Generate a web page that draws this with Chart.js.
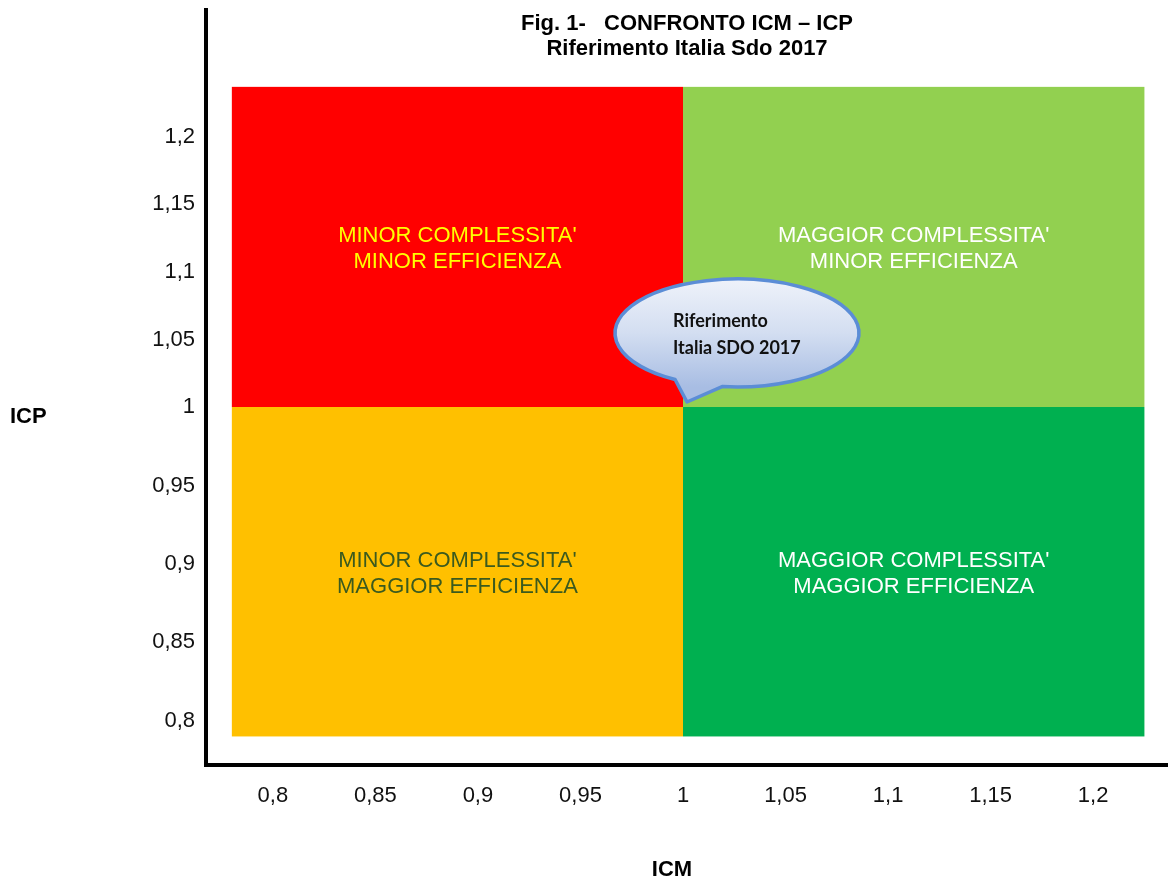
<!DOCTYPE html>
<html><head><meta charset="utf-8">
<script src="https://cdn.jsdelivr.net/npm/chart.js@4.4.1/dist/chart.umd.min.js"></script>
<style>html,body{margin:0;padding:0;background:#fff;}#wrap{width:1168px;height:880px;position:relative;}</style>
</head><body><div id="wrap"><canvas id="c"></canvas></div>
<script>
// ---- data ----
const titleLines = ['Fig. 1-   CONFRONTO ICM \u2013 ICP', 'Riferimento Italia Sdo 2017'];
const xAxisTitle = 'ICM';
const yAxisTitle = 'ICP';
const xTicks = [0.8, 0.85, 0.9, 0.95, 1, 1.05, 1.1, 1.15, 1.2];
const yTicks = [0.8, 0.85, 0.9, 0.95, 1, 1.05, 1.1, 1.15, 1.2];
const quadIcmFrom = [0.78, 1, 0.78, 1];
const quadIcmTo   = [1, 1.225, 1, 1.225];
const quadIcpFrom = [1, 1, 0.79, 0.79];
const quadIcpTo   = [1.237, 1.237, 1, 1];
const quadLabels = [
  ["MINOR COMPLESSITA'", "MINOR EFFICIENZA"],
  ["MAGGIOR COMPLESSITA'", "MINOR EFFICIENZA"],
  ["MINOR COMPLESSITA'", "MAGGIOR EFFICIENZA"],
  ["MAGGIOR COMPLESSITA'", "MAGGIOR EFFICIENZA"]
];
const quadColors = ['#FF0000', '#92D050', '#FFC000', '#00B050'];
const quadTextColors = ['#FFFF00', '#FFFFFF', '#3B5A1E', '#FFFFFF'];
const refLabel = ['Riferimento', 'Italia SDO 2017'];
const refIcm = [1];
const refIcp = [1];

// ---- helpers ----
const FONT = "'Liberation Sans', Arial, sans-serif";
const fmt = v => String(+v.toFixed(2)).replace('.', ',');
function yPix(chart, v) {
  return v >= 1 ? chart.scales.yTop.getPixelForValue(v) : chart.scales.yBot.getPixelForValue(v);
}

const quadrantPlugin = {
  id: 'quadrants',
  beforeDatasetsDraw(chart) {
    const ctx = chart.ctx, xs = chart.scales.x;
    ctx.save();
    for (let i = 0; i < quadColors.length; i++) {
      const x0 = xs.getPixelForValue(quadIcmFrom[i]), x1 = xs.getPixelForValue(quadIcmTo[i]);
      const y0 = yPix(chart, quadIcpTo[i]), y1 = yPix(chart, quadIcpFrom[i]);
      ctx.fillStyle = quadColors[i];
      ctx.fillRect(x0, y0, x1 - x0, y1 - y0);
      ctx.fillStyle = quadTextColors[i];
      ctx.font = '22px ' + FONT;
      ctx.textAlign = 'center';
      ctx.textBaseline = 'middle';
      const cx = (x0 + x1) / 2, cy = (y0 + y1) / 2 + 2;
      const lines = quadLabels[i], lh = 25.5;
      lines.forEach((t, k) => ctx.fillText(t, cx, cy + (k - (lines.length - 1) / 2) * lh));
    }
    ctx.restore();
  }
};

const calloutPlugin = {
  id: 'callout',
  afterDatasetsDraw(chart) {
    const el = chart.getDatasetMeta(0).data[0];
    if (!el) return;
    const ctx = chart.ctx;
    const px = el.x, py = el.y;
    const tipX = px + 4, tipY = py - 5;
    const cx = px + 54, cy = py - 74, rx = 122, ry = 54;
    const a0 = 120.5 * Math.PI / 180, a1 = (97 + 360) * Math.PI / 180;
    ctx.save();
    ctx.beginPath();
    ctx.ellipse(cx, cy, rx, ry, 0, a0, a1, false);
    ctx.lineTo(tipX, tipY);
    ctx.closePath();
    const g = ctx.createLinearGradient(0, cy - ry, 0, cy + ry);
    g.addColorStop(0, '#eef2fa');
    g.addColorStop(0.5, '#d3def1');
    g.addColorStop(1, '#a8bde3');
    ctx.fillStyle = g;
    ctx.fill();
    ctx.lineWidth = 3.5;
    ctx.strokeStyle = '#5B8DD6';
    ctx.lineJoin = 'round';
    ctx.stroke();
    ctx.fillStyle = '#111';
    ctx.font = "bold 18px Lato, 'Open Sans', sans-serif";
    ctx.textAlign = 'left';
    ctx.textBaseline = 'middle';
    ctx.fillText(refLabel[0], px - 10, py - 86);
    ctx.fillText(refLabel[1], px - 10, py - 59);
    ctx.restore();
  }
};

const textPlugin = {
  id: 'texts',
  afterDraw(chart) {
    const ctx = chart.ctx, ca = chart.chartArea;
    ctx.save();
    ctx.fillStyle = '#000';
    ctx.font = 'bold 22px ' + FONT;
    ctx.textAlign = 'center';
    ctx.textBaseline = 'middle';
    const tx = (ca.left + ca.right) / 2;
    ctx.fillText(titleLines[0], tx, 24);
    ctx.fillText(titleLines[1], tx, 49);
    ctx.textAlign = 'left';
    ctx.fillText(yAxisTitle, 10, 417);
    ctx.textAlign = 'center';
    ctx.fillText(xAxisTitle, 672, 870);
    ctx.restore();
  }
};

const tickFont = { family: FONT, size: 22 };
const yCommon = {
  type: 'linear', position: 'left', stack: 'icp',
  grid: { display: false, drawTicks: false },
  border: { display: true, color: '#000', width: 4 },
  ticks: { font: tickFont, color: '#111', padding: 11, autoSkip: false, callback: v => fmt(v) },
  afterFit(s) { s.width = 206; s.paddingTop = 0; s.paddingBottom = 0; }
};

new Chart(document.getElementById('c'), {
  type: 'scatter',
  data: {
    datasets: [{
      label: refLabel.join(' '),
      data: refIcm.map((x, i) => ({ x, y: refIcp[i] })),
      xAxisID: 'x', yAxisID: 'yTop',
      pointRadius: 0, pointHoverRadius: 0
    }]
  },
  options: {
    responsive: true, maintainAspectRatio: false, animation: false,
    layout: { padding: { top: 10, left: 0, right: 0, bottom: 0 } },
    plugins: { legend: { display: false }, tooltip: { enabled: false }, title: { display: false } },
    scales: {
      x: {
        type: 'linear', position: 'bottom', min: 0.7674, max: 1.2365,
        grid: { display: false, drawTicks: false },
        border: { display: true, color: '#000', width: 4 },
        ticks: { font: tickFont, color: '#111', padding: 18, autoSkip: false, maxRotation: 0, callback: v => fmt(v) },
        afterBuildTicks(s) { s.ticks = xTicks.map(v => ({ value: v })); },
        afterFit(s) { s.height = 115; s.paddingLeft = 0; s.paddingRight = 0; }
      },
      yBot: Object.assign({}, yCommon, {
        min: 0.7718, max: 1, stackWeight: 358, weight: 0,
        afterBuildTicks(s) { s.ticks = yTicks.filter(v => v < 1).map(v => ({ value: v })); }
      }),
      yTop: Object.assign({}, yCommon, {
        min: 1, max: 1.2939, stackWeight: 397, weight: 1,
        afterBuildTicks(s) { s.ticks = yTicks.filter(v => v >= 1).map(v => ({ value: v })); }
      })
    }
  },
  plugins: [quadrantPlugin, calloutPlugin, textPlugin]
});
</script></body></html>
